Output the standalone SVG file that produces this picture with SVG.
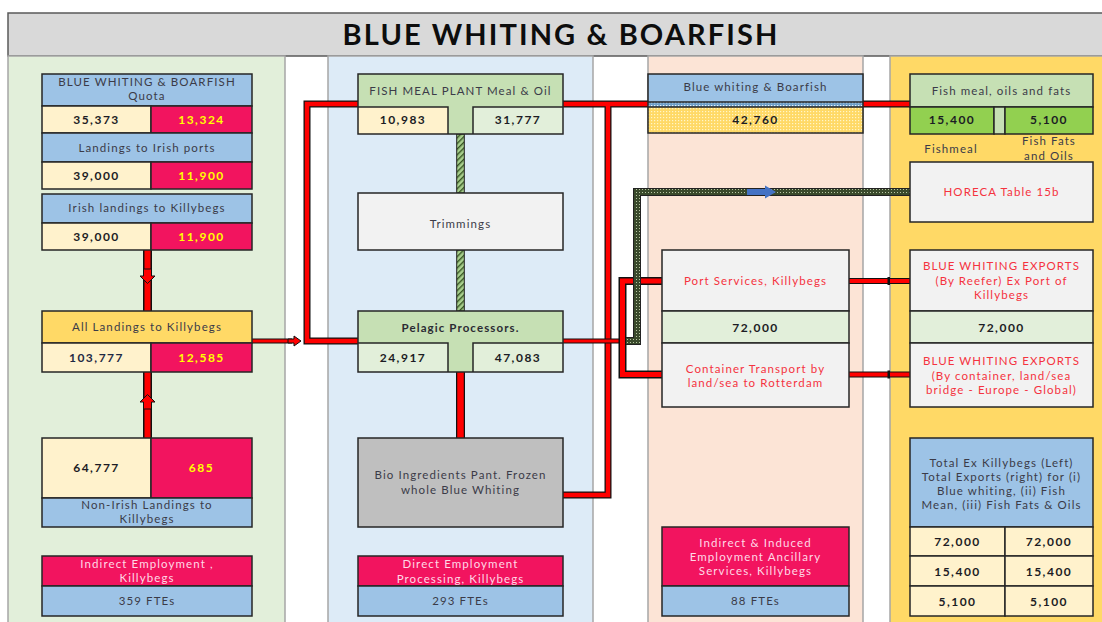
<svg xmlns="http://www.w3.org/2000/svg" width="1102" height="622" viewBox="0 0 1102 622">
<defs>
<style>
.t{font-family:Lato,'Open Sans',sans-serif;font-size:11.5px;fill:#3b3b48;text-anchor:middle;letter-spacing:1.1px}
.n{font-weight:bold;font-size:12px;letter-spacing:1.5px;fill:#1c1c24}
.y{fill:#ffff00}
.pk{fill:#ffd9e6}
.rd{fill:#f5333f}
.b{stroke:#262626;stroke-width:1.5}
.col{stroke:#a6a6a6;stroke-width:1.5}
.po{fill:none;stroke:#111;stroke-linejoin:miter}
.pi{fill:none;stroke:#ff0000;stroke-linejoin:miter}
</style>
<pattern id="hatch" width="4" height="4" patternUnits="userSpaceOnUse" patternTransform="rotate(45)">
<rect width="4" height="4" fill="#a9d08e"/><rect width="1.4" height="4" fill="#375623"/>
</pattern>
<pattern id="dotG" width="3" height="3" patternUnits="userSpaceOnUse">
<rect width="3" height="3" fill="#3a4a2c"/><rect width="1" height="1" fill="#b8c6a4"/>
</pattern>
<pattern id="dotY" width="3" height="3" patternUnits="userSpaceOnUse">
<rect width="3" height="3" fill="#ffd966"/><rect width="1.2" height="1.2" fill="#fff6c8"/>
</pattern>
<pattern id="dotB" width="3" height="3" patternUnits="userSpaceOnUse">
<rect width="3" height="3" fill="#6f9fc8"/><rect width="1.3" height="1.3" fill="#e8f2fb"/>
</pattern>
</defs>
<rect width="1102" height="622" fill="#ffffff"/>
<g id="title">
<rect x="8" y="13" width="1100" height="43" fill="#d9d9d9" stroke="#595959" stroke-width="1.5"/>
<text x="561" y="45" style="font-family:Lato,'Open Sans',sans-serif;font-size:29px;font-weight:bold;fill:#0d0d0d;text-anchor:middle;letter-spacing:2.1px">BLUE WHITING &amp; BOARFISH</text>
</g>
<g id="columns">
<rect class="col" x="8" y="56" width="277" height="572" fill="#e2efda"/>
<rect class="col" x="328" y="56" width="265" height="572" fill="#ddebf7"/>
<rect class="col" x="648" y="56" width="215" height="572" fill="#fce4d6"/>
<rect class="col" x="890" y="56" width="216" height="572" fill="#ffd966"/>
</g>
<g id="connectors">
<path class="po" stroke-width="9" d="M147.5 250V311M147.5 372V438"/>
<path class="pi" stroke-width="6" d="M147.5 250V311M147.5 372V438"/>
<polygon points="143.5,269 151.5,269 151.5,276 155,276 147.5,283.5 140,276 143.5,276" fill="#ff0000" stroke="#111" stroke-width="1"/>
<polygon points="143.5,409 151.5,409 151.5,402 155,402 147.5,394.5 140,402 143.5,402" fill="#ff0000" stroke="#111" stroke-width="1"/>
<path class="po" stroke-width="5" d="M252 341H292"/>
<path class="pi" stroke-width="3" d="M252 341H292"/>
<polygon points="288,339 294,339 294,336 301,341 294,346 294,343 288,343" fill="#ff0000" stroke="#111" stroke-width="1"/>
<path class="po" stroke-width="7" d="M358 104H307V341H358"/>
<path class="pi" stroke-width="4.5" d="M358 104H307V341H358"/>
<path class="po" stroke-width="7" d="M563 104H910M608 104V495H563"/>
<path class="pi" stroke-width="4.5" d="M563 104H910M608 104V495H563"/>
<path class="po" stroke-width="5" d="M563 341H624"/>
<path class="pi" stroke-width="3" d="M563 341H624"/>
<path class="po" stroke-width="8" d="M662 281H622.5V374.5H662"/>
<path class="pi" stroke-width="5" d="M662 281H622.5V374.5H662"/>
<path class="po" stroke-width="6" d="M849 281H910M849 374.5H910"/>
<path class="pi" stroke-width="4" d="M849 281H910M849 374.5H910"/>
<rect x="887.5" y="277" width="2.5" height="8" fill="#111"/>
<rect x="887.5" y="370.5" width="2.5" height="8" fill="#111"/>
<path fill="none" stroke="#222" stroke-width="8" d="M626 341H637V192H910"/>
<path fill="none" stroke="url(#dotG)" stroke-width="6" d="M626 341H637V192H910"/>
<polygon points="747,189 765,189 765,185.5 776,192 765,198.5 765,195 747,195" fill="#4472c4"/>
<rect x="456.7" y="134" width="7.6" height="59" fill="url(#hatch)" stroke="#222" stroke-width="1"/>
<rect x="456.7" y="250" width="7.6" height="61" fill="url(#hatch)" stroke="#222" stroke-width="1"/>
<path class="po" stroke-width="9" d="M460.5 372V438"/>
<path class="pi" stroke-width="6.5" d="M460.5 372V438"/>
</g>
<g id="quota">
<rect class="b" x="42" y="74" width="210" height="32" fill="#9dc3e6"/>
<rect class="b" x="42" y="106" width="109" height="27" fill="#fff2cc"/>
<rect class="b" x="151" y="106" width="101" height="27" fill="#f2145f"/>
<text class="t" x="147" y="86">BLUE WHITING &amp; BOARFISH</text>
<text class="t" x="147" y="100">Quota</text>
<text class="t n" x="96.5" y="124">35,373</text>
<text class="t n y" x="201.5" y="124">13,324</text>
</g>
<g id="landings-irish-ports">
<rect class="b" x="42" y="133" width="210" height="29" fill="#9dc3e6"/>
<rect class="b" x="42" y="162" width="109" height="27" fill="#fff2cc"/>
<rect class="b" x="151" y="162" width="101" height="27" fill="#f2145f"/>
<text class="t" x="147" y="152">Landings to Irish ports</text>
<text class="t n" x="96.5" y="180">39,000</text>
<text class="t n y" x="201.5" y="180">11,900</text>
</g>
<g id="irish-landings-killybegs">
<rect class="b" x="42" y="194" width="210" height="29" fill="#9dc3e6"/>
<rect class="b" x="42" y="223" width="109" height="27" fill="#fff2cc"/>
<rect class="b" x="151" y="223" width="101" height="27" fill="#f2145f"/>
<text class="t" x="147" y="212">Irish landings to Killybegs</text>
<text class="t n" x="96.5" y="241">39,000</text>
<text class="t n y" x="201.5" y="241">11,900</text>
</g>
<g id="all-landings">
<rect class="b" x="42" y="311" width="210" height="32" fill="#ffd966"/>
<rect class="b" x="42" y="343" width="109" height="29" fill="#fff2cc"/>
<rect class="b" x="151" y="343" width="101" height="29" fill="#f2145f"/>
<text class="t" x="147" y="331">All Landings to Killybegs</text>
<text class="t n" x="96.5" y="362" style="fill:#1f2a44">103,777</text>
<text class="t n y" x="201.5" y="362">12,585</text>
</g>
<g id="non-irish-landings">
<rect class="b" x="42" y="438" width="109" height="60" fill="#fff2cc"/>
<rect class="b" x="151" y="438" width="101" height="60" fill="#f2145f"/>
<rect class="b" x="42" y="498" width="210" height="29" fill="#9dc3e6"/>
<text class="t n" x="96.5" y="472">64,777</text>
<text class="t n y" x="201.5" y="472">685</text>
<text class="t" x="147" y="509">Non-Irish Landings to</text>
<text class="t" x="147" y="523">Killybegs</text>
</g>
<g id="indirect-employment">
<rect class="b" x="42" y="556" width="210" height="30" fill="#f2145f"/>
<rect class="b" x="42" y="586" width="210" height="30" fill="#9dc3e6"/>
<text class="t pk" x="147" y="568">Indirect Employment ,</text>
<text class="t pk" x="147" y="582">Killybegs</text>
<text class="t" x="147" y="604.5">359 FTEs</text>
</g>
<g id="fish-meal-plant">
<rect x="358" y="74" width="205" height="60" fill="#c6e0b4"/>
<rect x="358" y="107" width="90" height="27" fill="#fff2cc"/>
<rect x="473" y="107" width="90" height="27" fill="#e2efda"/>
<rect class="b" x="358" y="74" width="205" height="60" fill="none"/>
<path class="b" fill="none" d="M358 107H448V134M563 107H473V134"/>
<text class="t" x="460.5" y="95">FISH MEAL PLANT Meal &amp; Oil</text>
<text class="t n" x="403" y="124">10,983</text>
<text class="t n" x="518" y="124">31,777</text>
</g>
<g id="trimmings">
<rect class="b" x="358" y="193" width="205" height="57" fill="#f2f2f2"/>
<text class="t" x="460.5" y="227.5">Trimmings</text>
</g>
<g id="pelagic-processors">
<rect x="358" y="311" width="205" height="61" fill="#c6e0b4"/>
<rect x="358" y="343" width="90" height="29" fill="#e2efda"/>
<rect x="473" y="343" width="90" height="29" fill="#e2efda"/>
<rect class="b" x="358" y="311" width="205" height="61" fill="none"/>
<path class="b" fill="none" d="M358 343H448V372M563 343H473V372"/>
<text class="t" x="460.5" y="332" style="font-weight:bold;fill:#2b2b33">Pelagic Processors.</text>
<text class="t n" x="403" y="362">24,917</text>
<text class="t n" x="518" y="362">47,083</text>
</g>
<g id="bio-ingredients">
<rect class="b" x="358" y="438" width="205" height="89" fill="#bfbfbf"/>
<text class="t" x="460.5" y="479">Bio Ingredients Pant. Frozen</text>
<text class="t" x="460.5" y="493.5">whole Blue Whiting</text>
</g>
<g id="direct-employment">
<rect class="b" x="358" y="556" width="205" height="30" fill="#f2145f"/>
<rect class="b" x="358" y="586" width="205" height="30" fill="#9dc3e6"/>
<text class="t pk" x="460.5" y="568">Direct Employment</text>
<text class="t pk" x="460.5" y="582.5">Processing, Killybegs</text>
<text class="t" x="460.5" y="604.5">293 FTEs</text>
</g>
<g id="blue-whiting-boarfish">
<rect x="648" y="74" width="215" height="28" fill="#9dc3e6"/>
<rect x="648" y="102" width="215" height="5" fill="url(#dotB)"/>
<rect x="648" y="107" width="215" height="26" fill="url(#dotY)"/>
<rect class="b" x="648" y="74" width="215" height="59" fill="none"/>
<path class="b" d="M648 102H863M648 107H863"/>
<text class="t" x="755.5" y="91">Blue whiting &amp; Boarfish</text>
<text class="t n" x="755.5" y="124">42,760</text>
</g>
<g id="port-services">
<rect class="b" x="662" y="250" width="187" height="61" fill="#f2f2f2"/>
<rect class="b" x="662" y="311" width="187" height="32" fill="#e2efda"/>
<rect class="b" x="662" y="343" width="187" height="64" fill="#f2f2f2"/>
<text class="t rd" x="755.5" y="285">Port Services, Killybegs</text>
<text class="t n" x="755.5" y="332">72,000</text>
<text class="t rd" x="755.5" y="373">Container Transport by</text>
<text class="t rd" x="755.5" y="387">land/sea to Rotterdam</text>
</g>
<g id="indirect-induced">
<rect class="b" x="662" y="527" width="187" height="59" fill="#f2145f"/>
<rect class="b" x="662" y="586" width="187" height="30" fill="#9dc3e6"/>
<text class="t pk" x="755.5" y="547">Indirect &amp; Induced</text>
<text class="t pk" x="755.5" y="561">Employment Ancillary</text>
<text class="t pk" x="755.5" y="575">Services, Killybegs</text>
<text class="t" x="755.5" y="604.5">88 FTEs</text>
</g>
<g id="fish-meal-oils-fats">
<rect class="b" x="910" y="74" width="183" height="33" fill="#c6e0b4"/>
<rect class="b" x="910" y="107" width="84" height="27" fill="#92d050"/>
<rect class="b" x="994" y="107" width="11" height="27" fill="#c6e0b4"/>
<rect class="b" x="1005" y="107" width="88" height="27" fill="#92d050"/>
<text class="t" x="1001.5" y="95">Fish meal, oils and fats</text>
<text class="t n" x="952" y="124">15,400</text>
<text class="t n" x="1049" y="124">5,100</text>
<text class="t" x="951" y="152.5">Fishmeal</text>
<text class="t" x="1049" y="145">Fish Fats</text>
<text class="t" x="1049" y="159.5">and Oils</text>
</g>
<g id="horeca">
<rect class="b" x="910" y="162" width="183" height="60" fill="#f2f2f2"/>
<text class="t rd" x="1001.5" y="196">HORECA Table 15b</text>
</g>
<g id="blue-whiting-exports">
<rect class="b" x="910" y="250" width="183" height="61" fill="#f2f2f2"/>
<rect class="b" x="910" y="311" width="183" height="32" fill="#e2efda"/>
<rect class="b" x="910" y="343" width="183" height="64" fill="#f2f2f2"/>
<text class="t rd" x="1001.5" y="270">BLUE WHITING EXPORTS</text>
<text class="t rd" x="1001.5" y="285">(By Reefer) Ex Port of</text>
<text class="t rd" x="1001.5" y="299">Killybegs</text>
<text class="t n" x="1001.5" y="331.5">72,000</text>
<text class="t rd" x="1001.5" y="365">BLUE WHITING EXPORTS</text>
<text class="t rd" x="1001.5" y="379.5">(By container, land/sea</text>
<text class="t rd" x="1001.5" y="394">bridge - Europe - Global)</text>
</g>
<g id="totals">
<rect class="b" x="910" y="438" width="183" height="89" fill="#9dc3e6"/>
<rect class="b" x="910" y="527" width="95" height="29" fill="#fff2cc"/>
<rect class="b" x="1005" y="527" width="88" height="29" fill="#fff2cc"/>
<rect class="b" x="910" y="556" width="95" height="30" fill="#fff2cc"/>
<rect class="b" x="1005" y="556" width="88" height="30" fill="#fff2cc"/>
<rect class="b" x="910" y="586" width="95" height="30" fill="#fff2cc"/>
<rect class="b" x="1005" y="586" width="88" height="30" fill="#fff2cc"/>
<text class="t" x="1001.5" y="466.5">Total Ex Killybegs (Left)</text>
<text class="t" x="1001.5" y="480.5">Total Exports (right) for  (i)</text>
<text class="t" x="1001.5" y="494.5">Blue whiting, (ii) Fish</text>
<text class="t" x="1001.5" y="508.5">Mean, (iii) Fish Fats &amp; Oils</text>
<text class="t n" x="957.5" y="546">72,000</text>
<text class="t n" x="1049" y="546">72,000</text>
<text class="t n" x="957.5" y="575.5">15,400</text>
<text class="t n" x="1049" y="575.5">15,400</text>
<text class="t n" x="957.5" y="605.5">5,100</text>
<text class="t n" x="1049" y="605.5">5,100</text>
</g>
</svg>
